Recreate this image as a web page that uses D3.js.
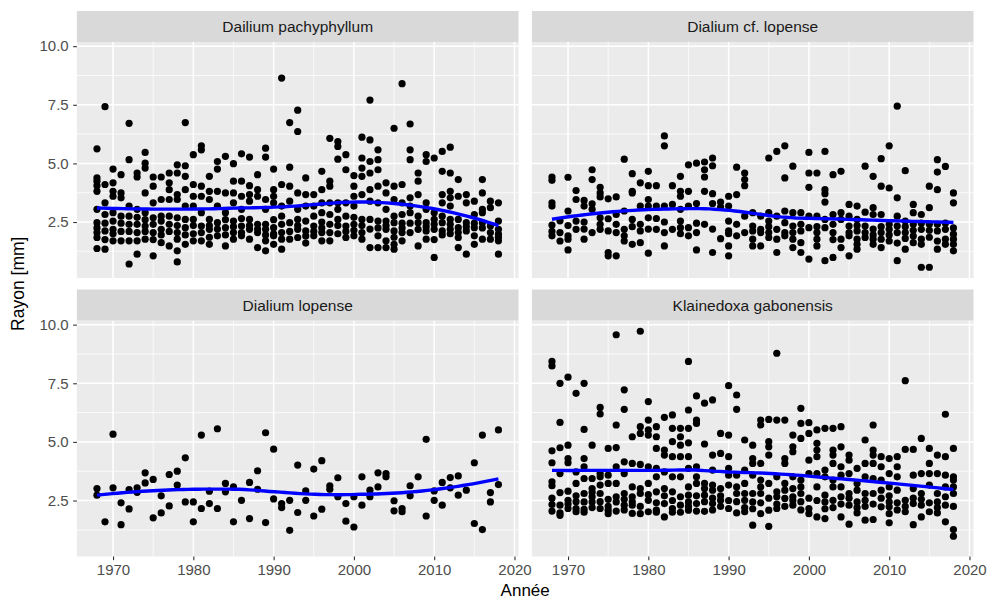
<!DOCTYPE html>
<html>
<head>
<meta charset="utf-8">
<script src="https://cdn.jsdelivr.net/npm/d3@7"></script>
<style>
  body { margin: 0; background: #fff; }
  svg { display: block; font-family: "Liberation Sans", Arial, Helvetica, sans-serif; }
</style>
</head>
<body>
<svg id="chart" width="987" height="601"></svg>
<script>
// values per year (incl. dots hidden in the dense band)
const pachyphyllum = [
  [1968, [5.62, 4.38, 4.24, 4.05, 3.81, 3.04, 2.47, 2.25, 2.05, 1.84, 1.37]],
  [1969, [7.42, 4.10, 3.32, 2.82, 2.45, 2.12, 1.75, 1.34]],
  [1970, [4.76, 4.17, 3.81, 3.60, 2.90, 2.54, 2.19, 2.00, 1.70]],
  [1971, [4.52, 3.74, 3.53, 2.75, 2.45, 2.10, 1.70]],
  [1972, [6.71, 5.16, 3.18, 2.75, 2.40, 2.10, 1.70, 0.71]],
  [1973, [4.59, 4.42, 3.04, 2.70, 2.40, 2.05, 1.70, 1.13]],
  [1974, [5.47, 5.01, 4.80, 3.74, 2.90, 2.60, 2.33, 2.10, 1.77]],
  [1975, [4.42, 4.03, 3.32, 2.68, 2.40, 2.05, 1.75, 1.06]],
  [1976, [4.42, 3.46, 2.75, 2.54, 2.19, 1.95, 1.62]],
  [1977, [4.59, 4.17, 3.88, 3.46, 2.75, 2.40, 2.10, 1.48]],
  [1978, [4.94, 4.59, 3.67, 3.46, 2.68, 2.35, 2.05, 1.77, 1.27, 0.80]],
  [1979, [6.74, 4.90, 4.45, 3.88, 3.18, 2.61, 2.26, 1.95, 1.55]],
  [1980, [5.37, 4.10, 3.60, 3.18, 2.61, 2.35, 2.00, 1.70]],
  [1981, [5.75, 5.58, 4.03, 3.60, 2.90, 2.33, 2.05, 1.70]],
  [1982, [4.45, 3.81, 3.46, 2.61, 2.35, 2.19, 1.85, 1.55]],
  [1983, [5.08, 4.76, 3.81, 3.18, 2.47, 2.20, 1.91]],
  [1984, [5.30, 3.74, 2.90, 2.60, 2.26, 1.95, 1.48]],
  [1985, [4.99, 4.24, 3.74, 3.32, 2.54, 2.30, 2.05, 1.77]],
  [1986, [5.41, 4.24, 3.60, 3.04, 2.65, 2.33, 2.05, 1.91]],
  [1987, [5.27, 4.05, 3.67, 3.39, 2.61, 2.35, 2.19, 1.77]],
  [1988, [4.52, 3.88, 3.60, 2.40, 2.20, 2.05, 1.41]],
  [1989, [5.65, 5.27, 3.46, 3.04, 2.40, 2.19, 1.95, 1.70, 1.27]],
  [1990, [4.76, 3.88, 3.60, 3.32, 2.60, 2.26, 2.00, 1.91, 1.55]],
  [1991, [8.64, 4.10, 3.18, 2.75, 2.40, 2.05, 1.77, 1.34]],
  [1992, [6.74, 4.84, 4.03, 3.39, 2.47, 2.10, 1.77]],
  [1993, [7.27, 6.36, 3.74, 3.04, 2.61, 2.35, 2.19, 1.84]],
  [1994, [4.38, 3.67, 3.18, 2.54, 2.12, 1.90, 1.60]],
  [1995, [3.67, 3.18, 2.75, 2.33, 2.10, 1.91]],
  [1996, [4.66, 3.88, 3.32, 2.90, 2.50, 2.25, 2.05, 1.70]],
  [1997, [6.07, 4.24, 4.03, 3.32, 2.82, 2.40, 2.05, 1.70]],
  [1998, [5.93, 5.72, 5.18, 3.32, 3.04, 2.61, 2.35, 2.00]],
  [1999, [5.37, 4.73, 3.32, 2.75, 2.33, 2.10, 1.84]],
  [2000, [4.48, 4.03, 3.60, 3.18, 2.70, 2.40, 2.15, 1.91]],
  [2001, [6.12, 5.23, 4.80, 4.45, 3.67, 2.61, 2.35, 2.05, 1.77]],
  [2002, [7.70, 6.00, 5.08, 4.59, 3.88, 3.39, 2.61, 2.20, 1.41]],
  [2003, [5.58, 5.16, 4.73, 4.03, 3.32, 2.54, 2.25, 1.91, 1.41]],
  [2004, [4.17, 3.74, 3.04, 2.54, 2.35, 2.19, 1.70, 1.41]],
  [2005, [6.50, 4.03, 3.46, 2.75, 2.47, 2.12, 1.85, 1.55, 1.34]],
  [2006, [8.40, 4.10, 3.32, 2.82, 2.45, 2.25, 2.05, 1.70]],
  [2007, [6.68, 5.58, 5.16, 3.53, 3.18, 2.90, 2.45, 2.05]],
  [2008, [4.59, 4.24, 3.67, 2.75, 2.47, 2.19, 1.48]],
  [2009, [5.37, 5.08, 3.32, 3.04, 2.47, 2.30, 2.12, 1.77]],
  [2010, [5.23, 2.90, 2.61, 2.40, 2.19, 1.75, 0.99]],
  [2011, [5.51, 4.66, 3.67, 3.32, 2.75, 2.47, 2.12, 1.95]],
  [2012, [5.69, 4.59, 3.81, 3.53, 3.18, 2.61, 2.40, 2.19, 2.00]],
  [2013, [4.31, 3.60, 2.61, 2.26, 2.05, 1.84, 1.41]],
  [2014, [3.67, 3.32, 2.47, 2.30, 2.12, 1.13]],
  [2015, [3.39, 2.82, 2.45, 2.26, 1.91, 1.55]],
  [2016, [4.31, 3.74, 3.04, 2.90, 2.47, 2.25, 1.77]],
  [2017, [3.39, 3.11, 2.33, 2.05, 1.77]],
  [2018, [3.32, 2.54, 2.19, 1.98, 1.85, 1.70, 1.13]]
];

const cfLopense = [
  [1968, [4.42, 4.28, 3.32, 3.18, 2.37, 2.10, 1.91]],
  [1969, [2.55, 2.05, 1.69]],
  [1970, [4.41, 2.97, 2.35, 1.91, 1.77, 1.31]],
  [1971, [3.84, 3.46, 2.54, 2.19]],
  [1972, [3.42, 3.18, 2.50, 2.20, 1.77]],
  [1973, [4.73, 4.31, 3.28, 3.04, 2.05]],
  [1974, [3.98, 3.74, 3.57, 2.68, 2.40, 2.19]],
  [1975, [3.49, 2.64, 2.12, 1.20, 1.06]],
  [1976, [3.57, 2.82, 2.40, 2.05, 1.06]],
  [1977, [5.18, 2.97, 2.19, 1.91, 1.69]],
  [1978, [4.56, 3.81, 3.74, 2.61, 2.30, 1.55]],
  [1979, [4.17, 3.18, 2.40, 2.12, 1.62]],
  [1980, [4.66, 4.05, 3.46, 3.18, 2.68, 2.20, 1.17]],
  [1981, [4.05, 3.18, 2.65, 2.19]],
  [1982, [6.17, 5.75, 3.18, 2.50, 2.05, 1.48]],
  [1983, [4.05, 3.25, 2.19]],
  [1984, [4.45, 3.81, 3.60, 3.04, 2.54, 2.26, 2.00]],
  [1985, [4.94, 3.81, 3.18, 2.26, 1.91]],
  [1986, [5.01, 3.29, 2.45, 2.05, 1.31]],
  [1987, [5.06, 4.73, 4.42, 3.81, 2.40]],
  [1988, [5.23, 4.90, 3.71, 3.29, 2.20, 1.20]],
  [1989, [3.35, 3.14, 1.79]],
  [1990, [3.60, 3.18, 2.54, 2.12, 2.00, 1.48, 1.06]],
  [1991, [4.84, 3.67, 2.40, 1.91]],
  [1992, [4.59, 4.31, 4.05, 2.75, 2.05]],
  [1993, [2.90, 2.33, 2.12, 1.77, 1.48]],
  [1994, [2.75, 2.19, 2.05, 1.48]],
  [1995, [5.23, 2.90, 2.54, 2.30, 2.05, 1.84]],
  [1996, [5.51, 2.75, 2.19, 1.77, 1.20]],
  [1997, [5.75, 4.38, 2.97, 2.47, 2.05, 1.91]],
  [1998, [4.88, 2.90, 2.33, 2.05, 1.77, 1.41]],
  [1999, [2.90, 2.40, 2.12, 1.62, 1.20]],
  [2000, [5.47, 4.59, 3.98, 2.75, 2.26, 0.92]],
  [2001, [4.59, 2.75, 2.30, 2.05, 1.77, 1.48]],
  [2002, [5.51, 3.88, 3.71, 3.35, 2.61, 2.26, 0.85]],
  [2003, [4.52, 2.82, 2.40, 2.05, 1.75, 0.99]],
  [2004, [4.66, 2.90, 2.61, 1.77, 1.41]],
  [2005, [3.25, 2.75, 2.33, 2.05, 1.91, 1.06]],
  [2006, [3.18, 2.61, 2.35, 2.12, 1.77, 1.55, 1.34]],
  [2007, [4.88, 2.92, 2.33, 2.05, 1.84]],
  [2008, [4.45, 3.11, 2.82, 2.20, 1.95, 1.77, 1.55]],
  [2009, [5.20, 4.03, 2.82, 2.30, 2.05, 1.77, 1.41]],
  [2010, [5.75, 3.95, 2.40, 2.19, 1.95, 1.69]],
  [2011, [7.44, 3.53, 2.75, 2.33, 2.05, 1.60, 0.85]],
  [2012, [4.69, 2.54, 2.30, 2.05, 1.80, 1.34]],
  [2013, [3.25, 2.90, 2.40, 2.15, 1.90, 1.62]],
  [2014, [2.82, 2.45, 2.19, 1.77, 1.55, 0.57]],
  [2015, [4.03, 3.11, 2.40, 2.15, 1.85, 0.57]],
  [2016, [5.16, 4.63, 3.88, 2.40, 2.12, 1.69, 1.34]],
  [2017, [4.87, 2.45, 2.19, 1.77, 1.55]],
  [2018, [3.74, 3.32, 2.25, 1.98, 1.77, 1.55, 1.27]]
];

const lopense = [
  [1968, [3.01, 2.73]], [1969, [1.59]], [1970, [5.33, 3.04]], [1971, [2.40, 1.47]],
  [1972, [2.97, 2.14]], [1973, [3.04, 2.85]], [1974, [3.68, 3.25]], [1975, [3.40, 1.76]],
  [1976, [2.70, 1.97]], [1977, [3.61, 2.27]], [1978, [3.75, 3.16]], [1979, [4.32, 2.44]],
  [1980, [2.44, 1.59]], [1981, [5.29, 2.16]], [1982, [2.90, 2.37]], [1983, [5.56, 2.16]],
  [1984, [3.23, 2.87]], [1985, [3.08, 1.59]], [1986, [2.51]], [1987, [3.27, 1.73]],
  [1988, [3.77, 2.98]], [1989, [5.39, 1.56]], [1990, [4.69, 2.57]], [1991, [2.37, 2.20]],
  [1992, [2.51, 1.23]], [1993, [4.01, 1.99]], [1994, [2.91, 2.51]], [1995, [3.84, 1.84]],
  [1996, [4.20, 2.13]], [1997, [3.13, 2.98]], [1998, [3.47, 2.66]], [1999, [2.37, 1.62]],
  [2000, [2.66, 1.37]], [2001, [3.51, 2.30]], [2002, [2.94, 2.66]], [2003, [3.68, 3.08]],
  [2004, [3.65, 3.51]], [2005, [2.49, 2.06]], [2006, [2.16, 2.02]], [2007, [3.13, 2.70]],
  [2008, [3.51]], [2009, [5.11, 1.84]], [2010, [2.91, 2.51]], [2011, [3.27, 2.30]],
  [2012, [3.48, 3.04]], [2013, [3.55, 2.73]], [2014, [2.94]], [2015, [4.11, 1.52]],
  [2016, [5.29, 1.26]], [2017, [2.84, 2.44]], [2018, [5.51, 3.18]]
];

const gabonensis = [
  [1968, [8.43, 8.24, 4.62, 4.11, 3.30, 3.13, 2.60, 2.33, 2.05]],
  [1969, [7.50, 5.83, 4.75, 3.65, 2.84, 2.30, 1.97, 1.87]],
  [1970, [7.76, 4.86, 4.29, 4.11, 2.90, 2.51, 2.35, 2.16]],
  [1971, [7.07, 3.72, 3.23, 2.70, 2.45, 2.16, 2.02]],
  [1972, [7.50, 5.53, 4.29, 3.94, 3.44, 2.80, 2.44, 2.12, 2.00]],
  [1973, [4.86, 3.44, 3.01, 2.85, 2.66, 2.44, 2.20]],
  [1974, [6.47, 6.19, 3.65, 3.51, 3.16, 2.80, 2.45, 2.16]],
  [1975, [4.72, 3.58, 3.23, 2.55, 2.25, 2.09, 1.94]],
  [1976, [9.57, 5.72, 4.76, 3.94, 3.23, 2.66, 2.44, 2.05]],
  [1977, [7.22, 6.39, 4.15, 3.65, 2.80, 2.55, 2.30, 2.10]],
  [1978, [5.22, 4.08, 3.08, 2.66, 2.45, 2.30, 1.95]],
  [1979, [9.72, 5.65, 5.36, 4.04, 3.01, 2.80, 2.25, 1.94]],
  [1980, [6.72, 5.93, 5.51, 5.29, 3.94, 3.23, 2.75, 2.51, 2.02]],
  [1981, [5.65, 5.22, 4.72, 3.87, 3.51, 2.87, 2.40, 2.09, 2.00]],
  [1982, [6.05, 4.65, 4.44, 3.72, 3.01, 2.70, 2.37, 1.80]],
  [1983, [6.15, 5.58, 5.01, 4.37, 3.51, 2.87, 2.50, 2.16, 2.00]],
  [1984, [5.58, 5.22, 4.86, 4.37, 3.51, 2.66, 2.30, 2.00]],
  [1985, [8.43, 6.36, 5.58, 4.96, 4.37, 3.87, 3.08, 2.73, 2.44, 2.25, 2.09]],
  [1986, [6.96, 5.93, 5.79, 3.94, 3.51, 3.23, 2.70, 2.37, 2.05]],
  [1987, [6.65, 4.91, 3.23, 3.01, 2.73, 2.45, 2.04]],
  [1988, [6.79, 4.44, 3.80, 3.16, 2.94, 2.60, 2.37, 2.10]],
  [1989, [5.36, 4.51, 3.01, 2.70, 2.51, 2.25]],
  [1990, [7.40, 5.29, 4.37, 3.87, 3.58, 3.16, 2.50, 2.16]],
  [1991, [7.00, 6.39, 3.58, 3.08, 2.80, 2.45, 1.97]],
  [1992, [5.08, 3.80, 3.23, 2.80, 2.51, 2.20, 2.02]],
  [1993, [4.86, 4.29, 4.08, 3.58, 2.80, 2.44, 2.15, 1.45]],
  [1994, [5.93, 5.72, 4.08, 3.37, 3.08, 2.80, 2.40, 1.94]],
  [1995, [5.96, 5.01, 4.79, 4.44, 3.23, 2.60, 2.09, 1.40]],
  [1996, [8.78, 5.93, 3.51, 2.87, 2.66, 2.35, 2.16]],
  [1997, [5.93, 4.29, 4.08, 3.23, 2.94, 2.59, 2.25]],
  [1998, [5.29, 4.79, 4.58, 3.51, 3.01, 2.66, 2.50, 2.30]],
  [1999, [6.43, 5.79, 5.15, 3.37, 3.08, 2.80, 2.45, 2.10]],
  [2000, [5.82, 5.36, 4.22, 3.65, 2.60, 2.16, 1.94]],
  [2001, [5.51, 4.94, 4.65, 4.37, 3.65, 3.08, 2.50, 1.80]],
  [2002, [5.58, 3.80, 3.51, 2.73, 2.44, 2.15, 1.73]],
  [2003, [5.58, 4.65, 4.44, 4.08, 3.37, 3.08, 2.51, 2.20]],
  [2004, [5.65, 4.79, 3.94, 3.58, 3.08, 2.66, 2.35, 1.80]],
  [2005, [4.44, 4.22, 3.65, 2.80, 2.60, 2.30, 1.49]],
  [2006, [3.87, 3.23, 2.94, 2.44, 2.20, 1.97]],
  [2007, [5.08, 4.08, 3.51, 2.80, 2.51, 2.25, 1.66]],
  [2008, [5.72, 4.65, 4.44, 4.08, 3.44, 2.80, 2.35, 1.69]],
  [2009, [4.37, 3.94, 3.37, 2.94, 2.60, 2.23]],
  [2010, [4.29, 3.65, 3.08, 2.70, 2.44, 2.23, 1.94, 1.55]],
  [2011, [4.37, 3.94, 3.51, 2.94, 2.40, 2.10]],
  [2012, [7.61, 4.68, 2.51, 2.25, 2.02]],
  [2013, [4.68, 3.58, 3.01, 2.60, 2.37, 1.47]],
  [2014, [5.15, 3.65, 2.80, 2.55, 2.30, 1.80]],
  [2015, [4.72, 4.08, 3.65, 3.16, 2.40, 2.02]],
  [2016, [4.44, 3.65, 2.80, 2.44, 2.20, 1.97]],
  [2017, [6.18, 4.37, 3.58, 3.08, 2.66, 2.30, 1.59]],
  [2018, [4.72, 3.51, 3.37, 3.08, 2.80, 2.25, 1.26, 0.98]]
];

const species = ['Dailium pachyphyllum', 'Dialium cf. lopense', 'Dialium lopense', 'Klainedoxa gabonensis'];
const seriesList = [pachyphyllum, cfLopense, lopense, gabonensis];
const xTicks = [1970, 1980, 1990, 2000, 2010, 2020];
const xMinor = [1975, 1985, 1995, 2005, 2015];
const yTicks = [2.5, 5.0, 7.5, 10.0];
const yMinor = [1.25, 3.75, 6.25, 8.75];

// layout
const colX = [76.9, 531.9];
const stripTop = [11, 289.5];
const stripH = 31;
const pw = 441.6;
const ph = 236;
const font = '"Liberation Sans", Arial, Helvetica, sans-serif';

const panels = seriesList.map((s, i) => ({
  name: species[i],
  col: i % 2,
  row: Math.floor(i / 2),
  points: s.flatMap(([yr, vals]) => vals.map((v) => ({ x: yr, y: v })))
}));

const allPts = panels.flatMap((p) => p.points);
const xExt = d3.extent(allPts, (d) => d.x);
const yExt = d3.extent(allPts, (d) => d.y);
const xPad = (xExt[1] - xExt[0]) * 0.05;
const yPad = (yExt[1] - yExt[0]) * 0.05;

const x = d3.scaleLinear().domain([xExt[0] - xPad, xExt[1] + xPad]).range([0, pw]);
const y = d3.scaleLinear().domain([yExt[0] - yPad, yExt[1] + yPad]).range([ph, 0]);

// loess, span 0.75, degree 2, tricube weights (as geom_smooth default)
function loess(pts, span, x0) {
  const n = pts.length;
  const q = Math.floor(n * span);
  const dist = pts.map((p) => Math.abs(p.x - x0));
  const h = dist.slice().sort((a, b) => a - b)[q - 1] * 1.000001;
  let s0 = 0, s1 = 0, s2 = 0, s3 = 0, s4 = 0, t0 = 0, t1 = 0, t2 = 0;
  pts.forEach((p, i) => {
    const r = dist[i] / h;
    if (r >= 1) return;
    const w = Math.pow(1 - r * r * r, 3);
    const u = p.x - x0;
    s0 += w; s1 += w * u; s2 += w * u * u; s3 += w * u * u * u; s4 += w * u * u * u * u;
    t0 += w * p.y; t1 += w * u * p.y; t2 += w * u * u * p.y;
  });
  // solve the 3x3 normal equations, keep the intercept
  const A = [[s0, s1, s2, t0], [s1, s2, s3, t1], [s2, s3, s4, t2]];
  for (let c = 0; c < 3; c++) {
    let piv = c;
    for (let r = c + 1; r < 3; r++) if (Math.abs(A[r][c]) > Math.abs(A[piv][c])) piv = r;
    [A[c], A[piv]] = [A[piv], A[c]];
    for (let r = 0; r < 3; r++) {
      if (r === c) continue;
      const f = A[r][c] / A[c][c];
      for (let k = c; k < 4; k++) A[r][k] -= f * A[c][k];
    }
  }
  return A[0][3] / A[0][0];
}

const svg = d3.select('#chart');
svg.append('rect').attr('width', 987).attr('height', 601).attr('fill', '#fff');

panels.forEach((p) => {
  const g = svg.append('g')
    .attr('transform', `translate(${colX[p.col]},${stripTop[p.row] + stripH})`);

  // strip
  svg.append('rect')
    .attr('x', colX[p.col]).attr('y', stripTop[p.row])
    .attr('width', pw).attr('height', stripH)
    .attr('fill', '#D9D9D9');
  svg.append('text')
    .attr('x', colX[p.col] + pw / 2).attr('y', stripTop[p.row] + stripH / 2)
    .attr('text-anchor', 'middle').attr('dominant-baseline', 'central')
    .attr('font-family', font).attr('font-size', 15.5).attr('fill', '#1A1A1A')
    .text(p.name);

  g.append('rect').attr('width', pw).attr('height', ph).attr('fill', '#EBEBEB');

  g.selectAll('.ymin').data(yMinor).join('line')
    .attr('x1', 0).attr('x2', pw).attr('y1', (d) => y(d)).attr('y2', (d) => y(d))
    .attr('stroke', '#fff').attr('stroke-width', 0.75);
  g.selectAll('.xmin').data(xMinor).join('line')
    .attr('y1', 0).attr('y2', ph).attr('x1', (d) => x(d)).attr('x2', (d) => x(d))
    .attr('stroke', '#fff').attr('stroke-width', 0.75);
  g.selectAll('.ymaj').data(yTicks).join('line')
    .attr('x1', 0).attr('x2', pw).attr('y1', (d) => y(d)).attr('y2', (d) => y(d))
    .attr('stroke', '#fff').attr('stroke-width', 1.5);
  g.selectAll('.xmaj').data(xTicks).join('line')
    .attr('y1', 0).attr('y2', ph).attr('x1', (d) => x(d)).attr('x2', (d) => x(d))
    .attr('stroke', '#fff').attr('stroke-width', 1.5);

  g.append('g').selectAll('circle').data(p.points).join('circle')
    .attr('cx', (d) => x(d.x)).attr('cy', (d) => y(d.y))
    .attr('r', 3.6).attr('fill', '#000');

  const px = d3.extent(p.points, (d) => d.x);
  const fit = d3.range(80).map((i) => {
    const xv = px[0] + (px[1] - px[0]) * i / 79;
    return [xv, loess(p.points, 0.75, xv)];
  });
  g.append('path').datum(fit)
    .attr('fill', 'none').attr('stroke', '#0000FF').attr('stroke-width', 3.4)
    .attr('d', d3.line().x((d) => x(d[0])).y((d) => y(d[1])));

  if (p.col === 0) {
    const ay = g.append('g')
      .call(d3.axisLeft(y).tickValues(yTicks).tickFormat(d3.format('.1f')).tickSize(3.7).tickPadding(4.5));
    ay.select('.domain').remove();
    ay.selectAll('line').attr('stroke', '#333333').attr('stroke-width', 1.1);
    ay.selectAll('text').attr('fill', '#4D4D4D').attr('font-size', 15).attr('font-family', font);
  }
  if (p.row === 1) {
    const ax = g.append('g').attr('transform', `translate(0,${ph})`)
      .call(d3.axisBottom(x).tickValues(xTicks).tickFormat(d3.format('d')).tickSize(3.7).tickPadding(4));
    ax.select('.domain').remove();
    ax.selectAll('line').attr('stroke', '#333333').attr('stroke-width', 1.1);
    ax.selectAll('text').attr('fill', '#4D4D4D').attr('font-size', 15).attr('font-family', font);
  }
});

svg.append('text')
  .attr('x', (colX[0] + colX[1] + pw) / 2).attr('y', 596)
  .attr('text-anchor', 'middle')
  .attr('font-family', font).attr('font-size', 17).attr('fill', '#000')
  .text('Année');

svg.append('text')
  .attr('transform', `translate(24,${(stripTop[0] + stripTop[1] + stripH + ph) / 2}) rotate(-90)`)
  .attr('text-anchor', 'middle')
  .attr('font-family', font).attr('font-size', 17.5).attr('fill', '#000')
  .text('Rayon [mm]');
</script>
</body>
</html>
